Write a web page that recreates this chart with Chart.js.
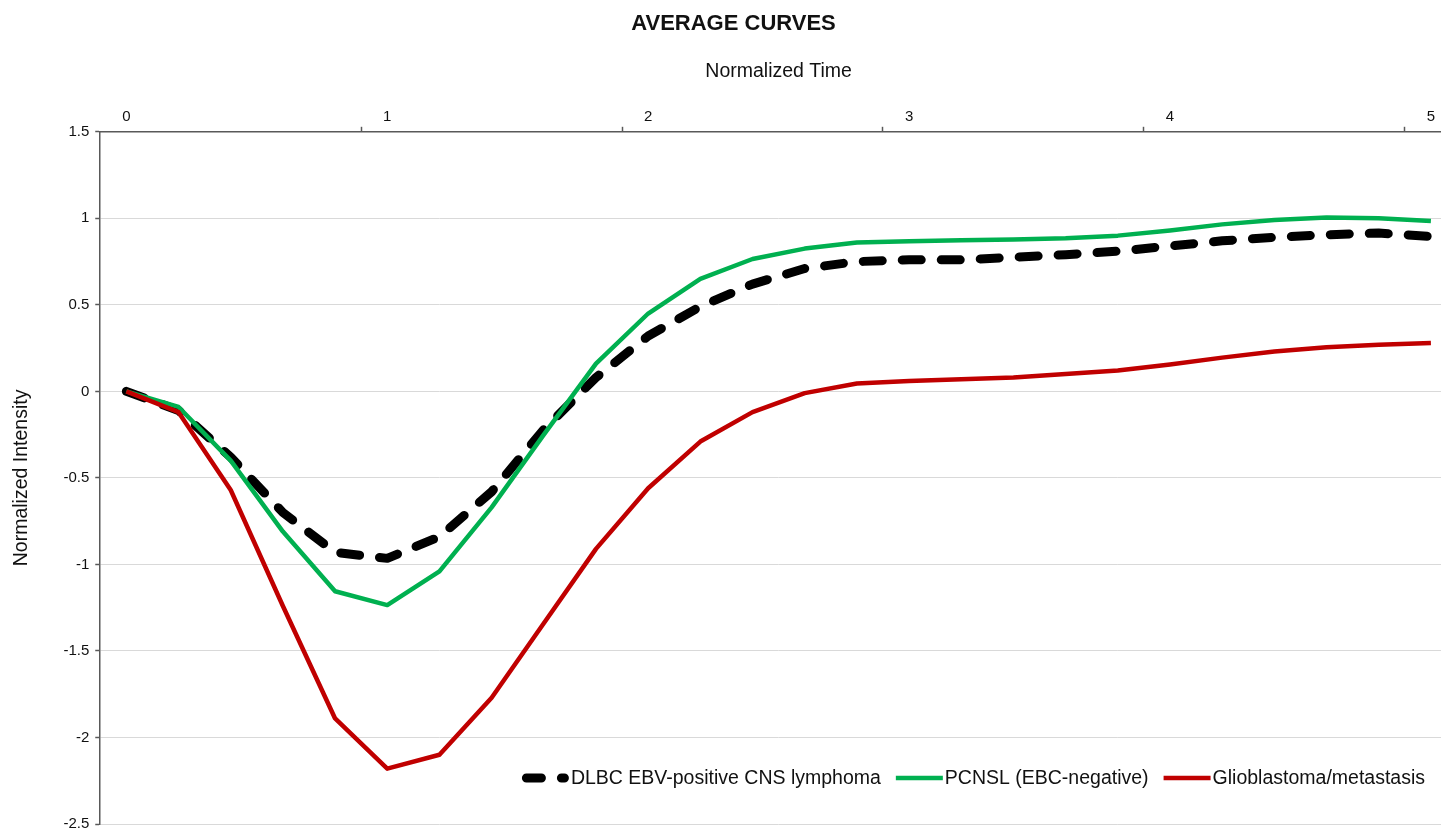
<!DOCTYPE html>
<html>
<head>
<meta charset="utf-8">
<title>Average Curves</title>
<script src="https://cdn.jsdelivr.net/npm/chart.js@4"></script>
<style>
    html, body { margin: 0; padding: 0; background: #fff; overflow: hidden; }
    #wrap { width: 1465px; height: 839px; position: relative; }
</style>
</head>
<body>
<div id="wrap"><canvas id="curvesChart"></canvas></div>
<script>
// Data
const times = [0, 0.2, 0.4, 0.6, 0.8, 1, 1.2, 1.4, 1.6, 1.8, 2, 2.2, 2.4, 2.6, 2.8, 3, 3.2, 3.4, 3.6, 3.8, 4, 4.2, 4.4, 4.6, 4.8, 5];
const dlbcValues = [0, -0.11, -0.38, -0.70, -0.93, -0.965, -0.84, -0.58, -0.22, 0.08, 0.32, 0.49, 0.62, 0.71, 0.75, 0.76, 0.76, 0.775, 0.79, 0.81, 0.84, 0.87, 0.89, 0.905, 0.915, 0.895];
const pcnslValues = [0, -0.09, -0.40, -0.81, -1.155, -1.235, -1.04, -0.67, -0.25, 0.16, 0.45, 0.65, 0.765, 0.825, 0.86, 0.868, 0.873, 0.878, 0.885, 0.90, 0.93, 0.965, 0.99, 1.005, 1.0, 0.985];
const gbmValues = [0, -0.12, -0.57, -1.24, -1.89, -2.18, -2.10, -1.77, -1.34, -0.91, -0.56, -0.29, -0.12, -0.01, 0.045, 0.06, 0.07, 0.08, 0.10, 0.12, 0.155, 0.195, 0.23, 0.255, 0.27, 0.28];
const seriesNames = ['DLBC EBV-positive CNS lymphoma', 'PCNSL (EBC-negative)', 'Glioblastoma/metastasis'];
const xLabelTicks = [0, 1, 2, 3, 4, 5];
const xMarkTicks = [0.9, 1.9, 2.9, 3.9, 4.9];
const yTicks = [1.5, 1, 0.5, 0, -0.5, -1, -1.5, -2, -2.5];

const FONT = "'Liberation Sans', Arial, sans-serif";
const AXIS_COLOR = '#595959';
const TEXT_COLOR = '#111';

function toPoints(values) {
    return times.map((t, i) => ({ x: t, y: values[i] }));
}

// Legend drawn inside the plot, bottom right
const insideLegend = {
    id: 'insideLegend',
    afterDraw(chart) {
        const ctx = chart.ctx;
        const area = chart.chartArea;
        const sampleLen = 47;
        const textGap = 2;
        const itemGap = 15;
        const y = 778;
        ctx.save();
        ctx.font = '19.5px ' + FONT;
        ctx.textBaseline = 'middle';
        const items = chart.data.datasets.map(ds => ({
            ds,
            width: sampleLen + textGap + ctx.measureText(ds.label).width
        }));
        const total = items.reduce((s, it) => s + it.width, 0) + itemGap * (items.length - 1);
        let x = area.right - 32 - total;
        items.forEach(it => {
            const ds = it.ds;
            ctx.beginPath();
            ctx.strokeStyle = ds.borderColor;
            ctx.lineWidth = ds.borderWidth;
            ctx.lineCap = ds.borderCapStyle || 'butt';
            // shorter dashes so the sample shows two of them, as in the reference
            ctx.setLineDash(ds.borderDash ? [15, 20] : []);
            const inset = ds.borderCapStyle === 'round' ? ds.borderWidth / 2 : 0;
            ctx.moveTo(x + inset, y);
            ctx.lineTo(x + sampleLen - inset, y);
            ctx.stroke();
            ctx.setLineDash([]);
            ctx.fillStyle = TEXT_COLOR;
            ctx.fillText(ds.label, x + sampleLen + textGap, y + 1);
            x += it.width + itemGap;
        });
        ctx.restore();
    }
};

const chart = new Chart(document.getElementById('curvesChart'), {
    type: 'line',
    data: {
        datasets: [
            {
                label: seriesNames[0],
                data: toPoints(dlbcValues),
                borderColor: '#000000',
                borderWidth: 9,
                borderDash: [19, 20],
                borderCapStyle: 'round',
                order: 3
            },
            {
                label: seriesNames[1],
                data: toPoints(pcnslValues),
                borderColor: '#00b050',
                borderWidth: 4.5,
                order: 2
            },
            {
                label: seriesNames[2],
                data: toPoints(gbmValues),
                borderColor: '#c00000',
                borderWidth: 4.5,
                order: 1
            }
        ]
    },
    options: {
        responsive: true,
        maintainAspectRatio: false,
        animation: false,
        layout: { padding: { left: 10, right: 8, top: 0, bottom: 0 } },
        elements: {
            point: { radius: 0, hoverRadius: 0 },
            line: { tension: 0, borderJoinStyle: 'round' }
        },
        plugins: {
            legend: { display: false },
            tooltip: { enabled: false },
            title: {
                display: true,
                text: 'AVERAGE CURVES',
                color: TEXT_COLOR,
                font: { family: FONT, size: 22, weight: 'bold' },
                padding: { top: 11, bottom: 22.5 }
            }
        },
        scales: {
            x: {
                type: 'linear',
                position: 'top',
                min: -0.1,
                max: 5.1,
                afterBuildTicks: scale => {
                    scale.ticks = [...xLabelTicks, ...xMarkTicks]
                        .sort((a, b) => a - b)
                        .map(v => ({ value: v }));
                },
                ticks: {
                    autoSkip: false,
                    maxRotation: 0,
                    padding: 1,
                    color: TEXT_COLOR,
                    font: { family: FONT, size: 15 },
                    callback: value => xLabelTicks.includes(value) ? String(value) : ''
                },
                grid: {
                    drawOnChartArea: false,
                    drawTicks: true,
                    tickLength: 5,
                    tickWidth: 1.5,
                    tickColor: ctx => (ctx.tick && xMarkTicks.includes(ctx.tick.value)) ? AXIS_COLOR : 'rgba(0,0,0,0)'
                },
                border: { display: true, color: AXIS_COLOR, width: 1.5 },
                title: {
                    display: true,
                    text: 'Normalized Time',
                    color: TEXT_COLOR,
                    font: { family: FONT, size: 19.5 },
                    padding: { top: 0, bottom: 23.5 }
                }
            },
            y: {
                min: -2.5,
                max: 1.5,
                afterBuildTicks: scale => {
                    scale.ticks = yTicks.map(v => ({ value: v }));
                },
                ticks: {
                    padding: 6,
                    color: TEXT_COLOR,
                    font: { family: FONT, size: 15 },
                    callback: value => String(value)
                },
                grid: {
                    color: '#d9d9d9',
                    lineWidth: 1,
                    tickLength: 5,
                    tickWidth: 1.5,
                    tickColor: AXIS_COLOR
                },
                border: { display: true, color: AXIS_COLOR, width: 1.5 },
                title: {
                    display: true,
                    text: 'Normalized Intensity',
                    color: TEXT_COLOR,
                    font: { family: FONT, size: 19.5 },
                    padding: { top: 0, bottom: 24 }
                }
            }
        }
    },
    plugins: [insideLegend]
});
</script>
</body>
</html>
